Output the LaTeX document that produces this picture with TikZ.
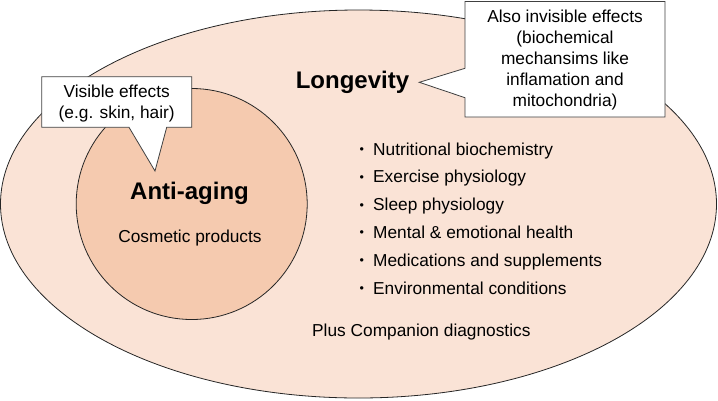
\documentclass[tikz,border=0pt]{standalone}
\usepackage{fontspec}
\setmainfont{Liberation Sans}
\definecolor{outerfill}{HTML}{FAE3D6}
\definecolor{innerfill}{HTML}{F5CAAF}
\definecolor{edgecol}{HTML}{262626}
\definecolor{calloutedge}{HTML}{404040}
\tikzset{
  bodytext/.style={inner sep=0pt, font=\fontsize{17.3}{20.8}\selectfont},
  titletext/.style={inner sep=0pt, font=\fontsize{24}{28}\selectfont\bfseries},
  bullettext/.style={bodytext, anchor=base west},
  bulletdot/.style={inner sep=0pt, anchor=base west, font=\fontsize{12.5}{14}\selectfont},
  calloutbox/.style={fill=white, draw=calloutedge, line width=0.8pt, line join=miter},
  blob/.style={draw=edgecol, line width=0.8pt}
}
\begin{document}
\begin{tikzpicture}[x=1pt, y=-1pt]
\useasboundingbox (0,0) rectangle (718,400);
% outer ellipse (Longevity)
\path[blob, fill=outerfill] (358.5,204) ellipse [x radius=358, y radius=194];
% inner circle (Anti-aging)
\path[blob, fill=innerfill] (191.7,204) circle [radius=115.5];

% callout 1
\path[calloutbox] (41.7,76.7) -- (191.7,76.7) -- (191.7,127.3) -- (166.7,127.3)
  -- (155,171) -- (129,127.3) -- (41.7,127.3) -- cycle;
\node[bodytext, align=center] (visible) at (116.7,103.6)
  {Visible effects\\(e.g. skin, hair)};

% callout 2
\path[calloutbox] (465,1.5) -- (665,1.5) -- (665,117) -- (465,117) -- (465,97.7)
  -- (419.3,82.3) -- (465,68.3) -- cycle;
\node[bodytext, align=center] (invisible) at (565,60)
  {Also invisible effects\\(biochemical\\mechansims like\\inflamation and\\mitochondria)};

% titles
\node[titletext, anchor=base] (longevity) at (352.5,88) {Longevity};
\node[titletext, anchor=base] (antiaging) at (189.5,199) {Anti-aging};
\node[bodytext, anchor=base] (cosmetic) at (190,242) {Cosmetic products};

% bullet list
\foreach \t [count=\i] in {Nutritional biochemistry, Exercise physiology, Sleep physiology,
    Mental \& emotional health, Medications and supplements, Environmental conditions}{
  \node[bulletdot] (b\i) at (359.5,{153.5+27.8*(\i-1)}) {\textbullet};
  \node[bullettext] (item\i) at (373,{155+27.8*(\i-1)}) {\t};
}
\node[bodytext, anchor=base west] (plus) at (312,336) {Plus Companion diagnostics};
\end{tikzpicture}
\end{document}
